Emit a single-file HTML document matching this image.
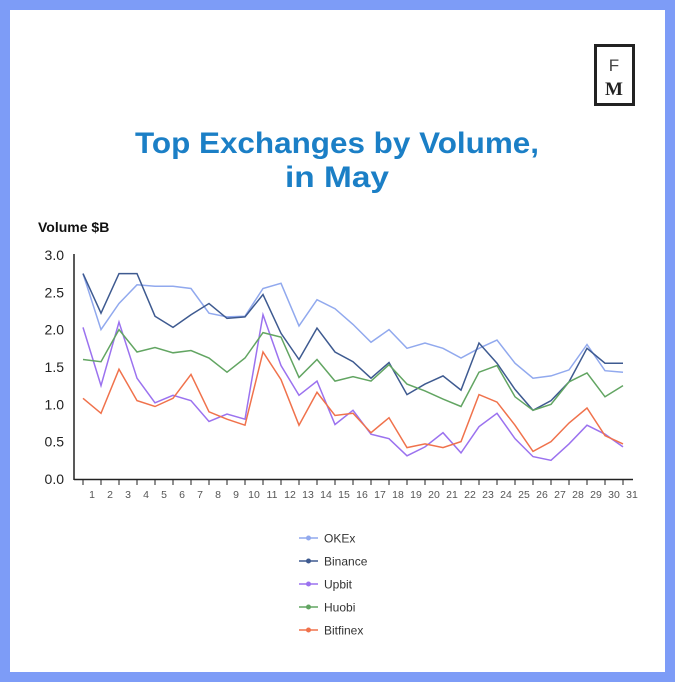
<!DOCTYPE html>
<html><head><meta charset="utf-8"><style>
html,body{margin:0;padding:0;}
body{width:675px;height:682px;background:#7d9cf7;position:relative;overflow:hidden;font-family:"Liberation Sans",sans-serif;}
#card{position:absolute;left:10px;top:10px;width:655px;height:662px;background:#fff;}
</style></head><body>
<div id="card"></div>
<svg id="s" width="675" height="682" style="position:absolute;left:0;top:0" xmlns="http://www.w3.org/2000/svg">
<rect x="595.5" y="45.5" width="38" height="59" fill="none" stroke="#222" stroke-width="3"/>
<text x="614" y="71" font-family="Liberation Sans" font-size="17" fill="#444" text-anchor="middle">F</text>
<text x="614" y="95" font-family="Liberation Serif" font-size="19" font-weight="bold" fill="#222" text-anchor="middle">M</text>
<text x="337" y="153" font-family="Liberation Sans" font-size="30" font-weight="bold" fill="#1b7fc6" text-anchor="middle" textLength="404" lengthAdjust="spacingAndGlyphs">Top Exchanges by Volume,</text>
<text x="337" y="187" font-family="Liberation Sans" font-size="30" font-weight="bold" fill="#1b7fc6" text-anchor="middle" textLength="104" lengthAdjust="spacingAndGlyphs">in May</text>
<text x="38" y="232" font-family="Liberation Sans" font-size="14" font-weight="bold" fill="#111">Volume $B</text>
<g id="ax"></g>
</svg>
<script>
var s=document.getElementById('ax'),h='';
var y0=479,k=74.7,x0=83,dx=18;
function Y(v){return y0-v*k;}
h+='<line x1="74" y1="254" x2="74" y2="480" stroke="#222" stroke-width="1.5"/>';
h+='<line x1="74" y1="479.5" x2="633" y2="479.5" stroke="#222" stroke-width="1.5"/>';
for(var i=0;i<=6;i++){var v=i*0.5;h+='<text x="64" y="'+(Y(v)+5)+'" font-size="14" fill="#222" text-anchor="end">'+v.toFixed(1)+'</text>';}
for(var i=0;i<31;i++){var x=x0+dx*i;h+='<line x1="'+x+'" y1="479" x2="'+x+'" y2="485" stroke="#222"/>';
h+='<text x="'+(x+dx*0.5)+'" y="498" font-size="10.5" fill="#555" text-anchor="middle">'+(i+1)+'</text>';}
var D=[
['OKEx','#91a9ee',[2.75,2.0,2.35,2.6,2.58,2.58,2.55,2.22,2.17,2.18,2.55,2.62,2.05,2.4,2.28,2.07,1.83,2.0,1.75,1.82,1.75,1.62,1.75,1.86,1.55,1.35,1.38,1.46,1.8,1.45,1.43]],
['Binance','#3e5a90',[2.75,2.22,2.75,2.75,2.18,2.03,2.2,2.35,2.15,2.17,2.47,1.95,1.6,2.02,1.7,1.57,1.35,1.56,1.13,1.27,1.38,1.19,1.82,1.55,1.2,0.92,1.05,1.3,1.75,1.55,1.55]],
['Upbit','#9b72ef',[2.03,1.25,2.1,1.35,1.02,1.12,1.05,0.77,0.87,0.8,2.2,1.52,1.12,1.31,0.73,0.92,0.6,0.54,0.31,0.43,0.62,0.35,0.7,0.88,0.54,0.3,0.25,0.47,0.72,0.6,0.43]],
['Huobi','#62a562',[1.6,1.57,2.0,1.7,1.76,1.69,1.72,1.62,1.43,1.62,1.96,1.9,1.36,1.6,1.31,1.37,1.31,1.53,1.27,1.18,1.07,0.97,1.43,1.52,1.1,0.92,1.0,1.3,1.42,1.1,1.25]],
['Bitfinex','#f0724c',[1.08,0.88,1.47,1.05,0.97,1.08,1.4,0.9,0.8,0.72,1.7,1.33,0.72,1.16,0.85,0.88,0.62,0.82,0.42,0.47,0.42,0.5,1.13,1.03,0.72,0.37,0.5,0.75,0.95,0.58,0.47]]];
D.forEach(function(d,j){var p=d[2].map(function(v,i){return (x0+dx*i)+','+Y(v).toFixed(1)}).join(' ');
h+='<polyline points="'+p+'" fill="none" stroke="'+d[1]+'" stroke-width="1.5"/>';
var ly=538+j*23;
h+='<line x1="299" y1="'+ly+'" x2="318" y2="'+ly+'" stroke="'+d[1]+'" stroke-width="1.5"/><circle cx="308.5" cy="'+ly+'" r="2.5" fill="'+d[1]+'"/>';
h+='<text x="324" y="'+(ly+4.5)+'" font-size="12" fill="#333">'+d[0]+'</text>';});
s.innerHTML=h;
</script>
</body></html>
